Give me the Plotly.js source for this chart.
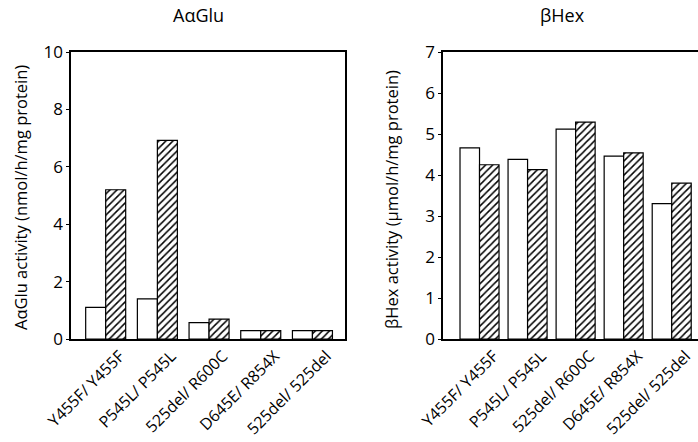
<!DOCTYPE html>
<html>
<head>
<meta charset="utf-8">
<script src="https://cdn.plot.ly/plotly-3.0.1.min.js"></script>
<style>html,body{margin:0;padding:0;background:#fff}#chart{width:698px;height:442px}</style>
</head>
<body>
<div id="chart"></div>
<script>
const categories = ["Y455F/ Y455F", "P545L/ P545L", "525del/ R600C", "D645E/ R854X", "525del/ 525del"];
const aglucOpen = [1.10, 1.40, 0.57, 0.29, 0.29];
const aglucHatched = [5.20, 6.92, 0.69, 0.29, 0.29];
const bhexOpen = [4.66, 4.38, 5.12, 4.46, 3.30];
const bhexHatched = [4.25, 4.13, 5.29, 4.54, 3.80];
const leftTicks = [0, 2, 4, 6, 8, 10];
const rightTicks = [0, 1, 2, 3, 4, 5, 6, 7];

const W = 698, H = 442;
const font = "Open Sans, Noto Sans, sans-serif";
const line = {color: "#000", width: 1.2};

function openBar(y, xa, ya, w) {
  return {type: "bar", x: categories, y: y, xaxis: xa, yaxis: ya, width: w, offset: -w,
    marker: {color: "#fff", line: line}, showlegend: false, hoverinfo: "skip"};
}
function hatchBar(y, xa, ya, w) {
  return {type: "bar", x: categories, y: y, xaxis: xa, yaxis: ya, width: w, offset: 0,
    marker: {color: "#fff", line: line,
      pattern: {shape: "/", fgcolor: "#000", bgcolor: "#fff", size: 5, solidity: 0.3}},
    showlegend: false, hoverinfo: "skip"};
}

const data = [
  openBar(aglucOpen, "x", "y", 0.387),
  hatchBar(aglucHatched, "x", "y", 0.387),
  openBar(bhexOpen, "x2", "y2", 0.406),
  hatchBar(bhexHatched, "x2", "y2", 0.406)
];

const yDom = [1 - 339 / H, 1 - 52 / H];
const xAxisBase = {
  showline: true, linecolor: "#000", linewidth: 1.6, mirror: true,
  showgrid: false, zeroline: false, ticks: "", tickangle: -45, ticklabelshift: 14,
  tickfont: {family: font, size: 16, color: "#000"}, automargin: false, fixedrange: true
};
const yAxisBase = {
  showline: true, linecolor: "#000", linewidth: 1.6,
  showgrid: false, zeroline: false, ticks: "outside", ticklen: 3, tickcolor: "#000",
  tickfont: {family: font, size: 17, color: "#000"}, automargin: false, fixedrange: true
};

function ann(text, x, y, size, angle) {
  return {text: text, x: x / W, y: 1 - y / H, xref: "paper", yref: "paper", showarrow: false,
    xanchor: "center", yanchor: "middle", textangle: angle || 0,
    font: {family: font, size: size, color: "#000"}};
}

const layout = {
  width: W, height: H,
  margin: {l: 0, r: 0, t: 0, b: 0},
  paper_bgcolor: "#fff", plot_bgcolor: "#fff",
  barmode: "overlay",
  xaxis: Object.assign({}, xAxisBase, {domain: [71 / W, 345 / W], range: [-0.671, 4.63], anchor: "y"}),
  yaxis: Object.assign({}, yAxisBase, {domain: yDom, range: [0, 10], tickvals: leftTicks, mirror: true, anchor: "x"}),
  xaxis2: Object.assign({}, xAxisBase, {domain: [443 / W, 1], range: [-0.76, 4.547], anchor: "y2"}),
  yaxis2: Object.assign({}, yAxisBase, {domain: yDom, range: [0, 7], tickvals: rightTicks, mirror: false, anchor: "x2"}),
  annotations: [
    ann("AαGlu", 198, 15, 18),
    ann("βHex", 562, 15, 18),
    ann("AαGlu activity (nmol/h/mg protein)", 21, 198, 16.5, -90),
    ann("βHex activity (µmol/h/mg protein)", 392, 200, 16.5, -90)
  ]
};

Plotly.newPlot("chart", data, layout, {staticPlot: true, displayModeBar: false});
</script>
</body>
</html>
